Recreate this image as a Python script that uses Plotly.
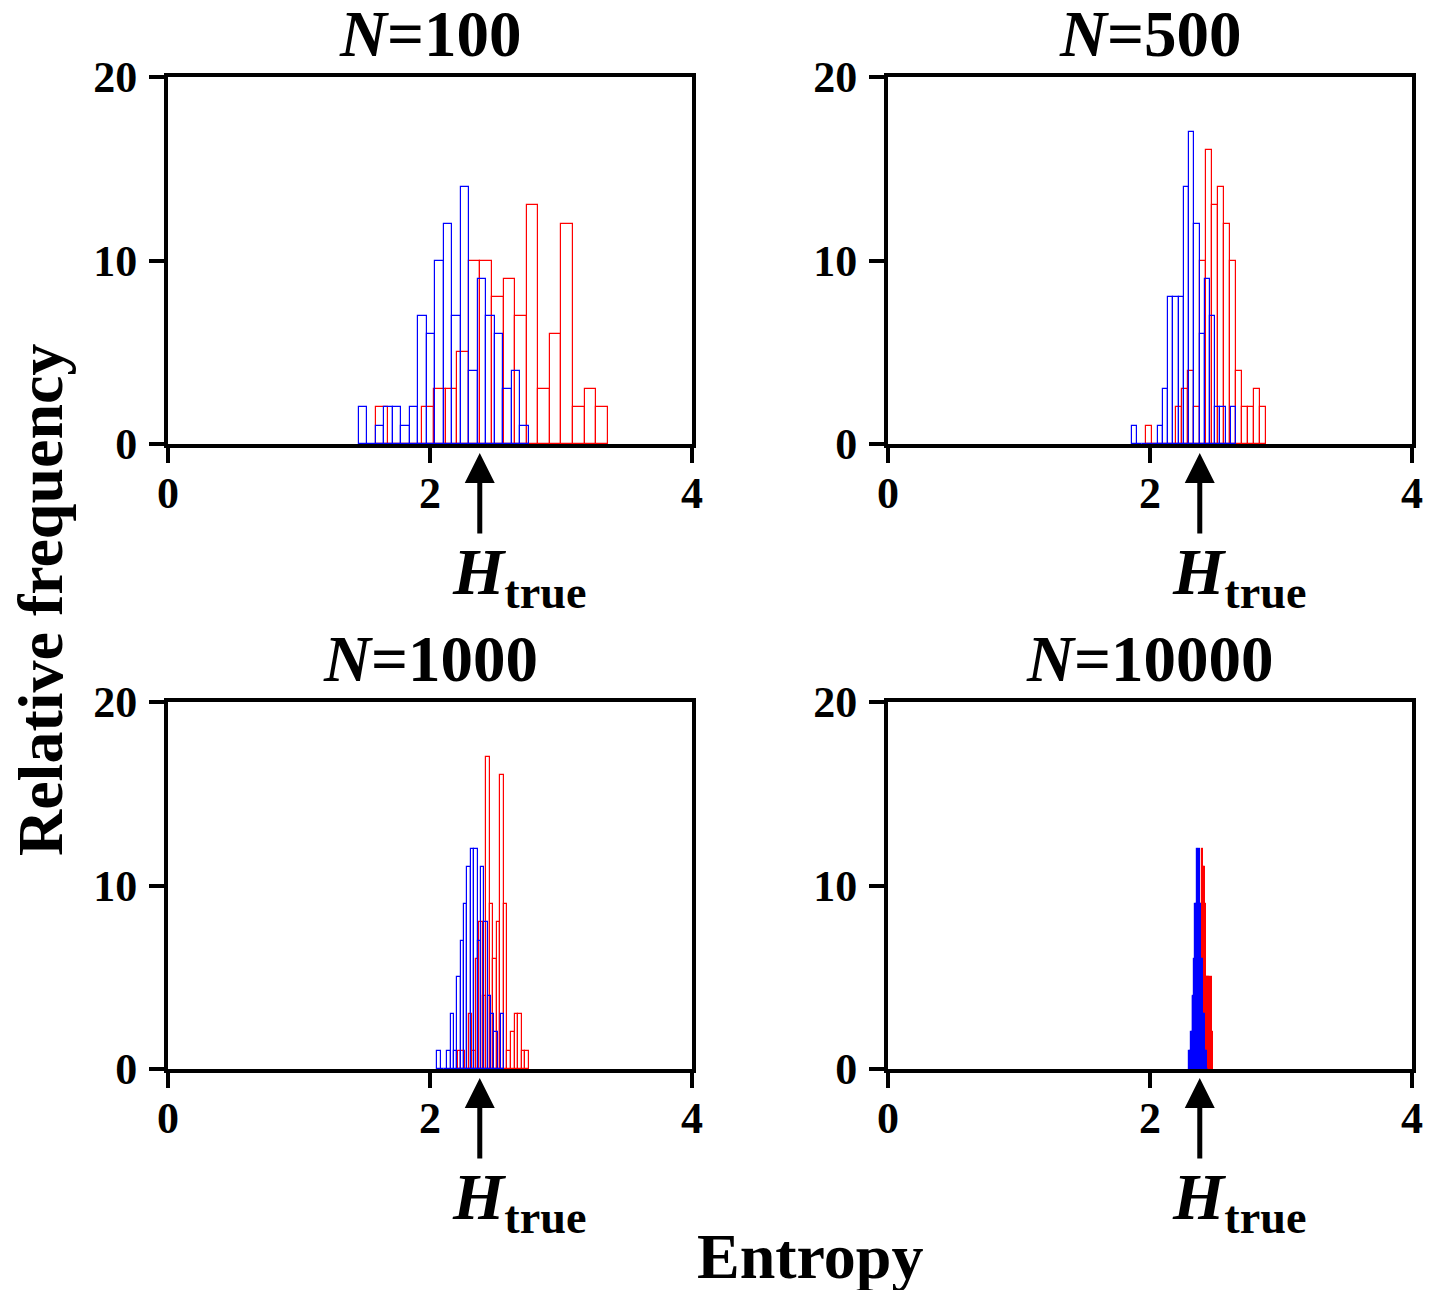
import plotly.graph_objects as go

FONT = "Liberation Serif, Times New Roman, serif"
OFF = 8                      # page body margin of the written html
W, H = 1441 - OFF, 1290 - OFF

# ---------------- data ----------------
panel_titles = ["<i>N</i>=100", "<i>N</i>=500", "<i>N</i>=1000", "<i>N</i>=10000"]
H_TRUE = 2.38
x_ticks = [0, 2, 4]
y_ticks = [0, 10, 20]

# histogram bins: (first bin left edge, bin width) and relative frequency (%) per bin
n100_red_start, n100_red_width = 1.589, 0.0884
n100_red = [2, 0, 0, 0, 2, 3, 3, 5, 10, 10, 8, 9, 7, 13, 3, 6, 12, 2, 3, 2]
n100_blue_start, n100_blue_width = 1.457, 0.06476
n100_blue = [2, 0, 1, 2, 2, 1, 2, 7, 6, 10, 12, 7, 14, 4, 9, 7, 6, 3, 4, 1]

n500_red_start, n500_red_width = 1.967, 0.0461
n500_red = [1, 0, 0, 0, 0, 2, 3, 4, 2, 10, 16, 13, 14, 12, 10, 4, 2, 2, 3, 2]
n500_blue_start, n500_blue_width = 1.861, 0.03977
n500_blue = [1, 0, 0, 0, 0, 1, 3, 8, 8, 8, 14, 17, 12, 6, 9, 7, 2, 2, 0, 2]

n1000_red_start, n1000_red_width = 2.213, 0.027
n1000_red = [1, 1, 0, 3, 1, 6, 8, 4, 17, 9, 6, 8, 16, 9, 1, 2, 3, 3, 1, 1]
n1000_blue_start, n1000_blue_width = 2.055, 0.02566
n1000_blue = [1, 0, 0, 1, 3, 1, 5, 7, 9, 11, 12, 12, 7, 11, 8, 4, 3, 2, 0, 3]

n10000_red_start, n10000_red_width = 2.375, 0.0054
n10000_red = [2, 4, 6, 9, 12, 12, 11, 11, 9, 9, 5, 5, 5, 5, 5, 5, 4, 5, 2, 1]
n10000_blue_start, n10000_blue_width = 2.295, 0.00735
n10000_blue = [1, 1, 2, 2, 4, 4, 6, 9, 9, 12, 9, 12, 9, 6, 6, 3, 3, 1, 1, 0]

panels = [
    ((n100_red_start, n100_red_width, n100_red), (n100_blue_start, n100_blue_width, n100_blue)),
    ((n500_red_start, n500_red_width, n500_red), (n500_blue_start, n500_blue_width, n500_blue)),
    ((n1000_red_start, n1000_red_width, n1000_red), (n1000_blue_start, n1000_blue_width, n1000_blue)),
    ((n10000_red_start, n10000_red_width, n10000_red), (n10000_blue_start, n10000_blue_width, n10000_blue)),
]

# ---------------- layout geometry (page pixels, axis-line centres) ----------------
col_px = [(166, 694), (886, 1414)]
row_px = [(75, 446), (700, 1071)]
LW = 4


def px(p):
    return (p - OFF) / W


def py(p):
    return 1 - (p - OFF) / H


fig = go.Figure()
layout = dict(
    width=W, height=H, margin=dict(l=0, r=0, t=0, b=0, autoexpand=False),
    paper_bgcolor="white", plot_bgcolor="white",
    barmode="overlay", showlegend=False, bargap=0,
)
annotations = []

for i, (red, blue) in enumerate(panels):
    r, c = divmod(i, 2)
    ax_id = "" if i == 0 else str(i + 1)
    xa, ya = "x" + ax_id, "y" + ax_id
    x0, x1 = col_px[c]
    y0, y1 = row_px[r]
    for (start, width, counts), color in ((red, "#ff0000"), (blue, "#0000ff")):
        centers = [start + width * (k + 0.5) for k in range(len(counts))]
        fig.add_trace(go.Bar(
            x=centers, y=counts, width=width,
            marker=dict(color="rgba(0,0,0,0)", line=dict(color=color, width=1.2)),
            xaxis=xa, yaxis=ya, hoverinfo="skip",
        ))
    common = dict(
        showline=True, linewidth=LW, linecolor="black", mirror=True,
        ticks="outside", ticklen=15, tickwidth=4, tickcolor="black",
        showgrid=False, zeroline=False, automargin=False,
        tickfont=dict(family=FONT, size=44, color="black", weight="bold"),
    )
    layout["xaxis" + ax_id] = dict(
        common, domain=[px(x0 + LW / 2), px(x1 - LW / 2)], range=[0, 4],
        tickvals=x_ticks, anchor=ya, ticklabelstandoff=-8,
    )
    layout["yaxis" + ax_id] = dict(
        common, domain=[py(y1 - LW / 2), py(y0 + LW / 2)], range=[0, 20],
        tickvals=y_ticks, anchor=xa, ticklabelstandoff=3,
    )
    # title
    annotations.append(dict(
        text="<b>" + panel_titles[i] + "</b>", xref="paper", yref="paper",
        x=px((x0 + x1) / 2), y=py(y0), xanchor="center", yanchor="bottom",
        yshift=3, showarrow=False, font=dict(family=FONT, size=65, color="black"),
    ))
    # arrow at true entropy
    annotations.append(dict(
        text="", xref=xa, yref=ya, x=H_TRUE, y=0, showarrow=True,
        ax=0, ay=91, arrowhead=2, arrowsize=1.2, arrowwidth=5, arrowcolor="black",
        standoff=9,
    ))
    annotations.append(dict(
        text="<b><i>H</i><sub>true</sub></b>", xref=xa, yref=ya, x=H_TRUE, y=0,
        xanchor="left", yanchor="top", xshift=-30, yshift=-89, showarrow=False,
        font=dict(family=FONT, size=66, color="black"),
    ))

annotations.append(dict(
    text="<b>Relative frequency</b>", xref="paper", yref="paper",
    x=px(40), y=py(600), xanchor="center", yanchor="middle", textangle=-90,
    showarrow=False, font=dict(family=FONT, size=64, color="black"),
))
annotations.append(dict(
    text="<b>Entropy</b>", xref="paper", yref="paper",
    x=px(810), y=py(1256), xanchor="center", yanchor="middle",
    showarrow=False, font=dict(family=FONT, size=64, color="black"),
))
layout["annotations"] = annotations
fig.update_layout(**layout)
fig.write_html("out.html")
